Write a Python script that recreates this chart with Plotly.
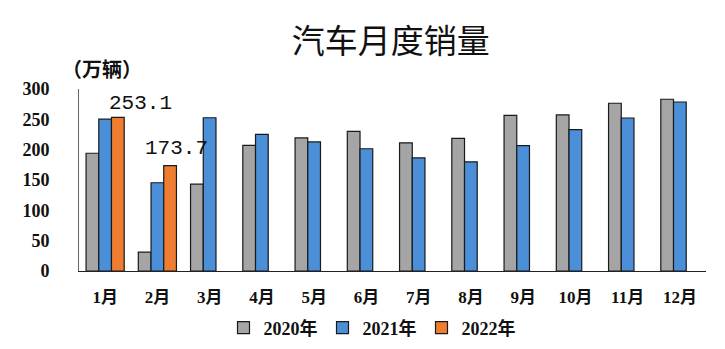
import plotly.graph_objects as go

months = ["1月", "2月", "3月", "4月", "5月", "6月", "7月", "8月", "9月", "10月", "11月", "12月"]
sales_2020 = [194.1, 31.0, 143.1, 207.0, 219.4, 230.0, 211.2, 218.6, 256.5, 257.3, 276.5, 283.1]
sales_2021 = [250.3, 145.5, 252.6, 225.2, 212.8, 201.5, 186.4, 179.9, 206.7, 233.2, 252.2, 278.6]
sales_2022 = [253.1, 173.7, None, None, None, None, None, None, None, None, None, None]
series_names = ["2020年", "2021年", "2022年"]
colors = ["#A5A5A5", "#4A8FD8", "#EE7D31"]

# label offsets (pixels) for the 2022 value labels
label_xshift = [35, 19]
label_yshift = [14, 17]

serif = "Liberation Serif, Times New Roman, Noto Sans CJK SC, serif"
cjk = "Noto Sans CJK SC, sans-serif"

fig = go.Figure()
for name, vals, col in zip(series_names, [sales_2020, sales_2021, sales_2022], colors):
    fig.add_trace(go.Bar(
        x=months, y=vals, name=name,
        marker=dict(color=col, line=dict(color="#1a1a1a", width=1.2)),
    ))

i = 0
for m, v in zip(months, sales_2022):
    if v is not None:
        fig.add_annotation(
            x=m, y=v, text=f"{v:.1f}", showarrow=False,
            xshift=label_xshift[i], yshift=label_yshift[i], yanchor="middle",
            font=dict(family="Liberation Mono, DejaVu Sans Mono, monospace", size=21, color="#111"),
        )
        i += 1

fig.add_annotation(
    xref="paper", yref="paper", x=-0.031, y=1.11, xanchor="left", yanchor="middle",
    text="（万辆）", showarrow=False,
    font=dict(family=cjk, size=20, color="#111", weight="bold"),
)

fig.update_layout(
    width=725, height=349,
    margin=dict(l=79, r=19, t=89, b=78, autoexpand=False),
    paper_bgcolor="white", plot_bgcolor="white",
    title=dict(text="汽车月度销量", x=0.539, xanchor="center", xref="container",
               y=1 - 41 / 349, yanchor="middle", yref="container",
               font=dict(family=cjk, size=33, color="#111")),
    barmode="group", bargap=0.27, bargroupgap=0,
    showlegend=True,
    legend=dict(orientation="h", x=372 / 725, xanchor="center", xref="container",
                y=1 - 328 / 349, yanchor="middle", yref="container",
                font=dict(family=serif, size=18, color="#111", weight="bold"),
                itemwidth=30, traceorder="normal"),
    xaxis=dict(showline=True, linecolor="#222", linewidth=1, ticks="", automargin=False,
               tickfont=dict(family=serif, size=17, color="#111", weight="bold"),
               ticklabelstandoff=11, showgrid=False),
    yaxis=dict(range=[0, 300], dtick=50, showline=True, linecolor="#666", linewidth=1,
               ticks="", showgrid=False, zeroline=False, automargin=False,
               tickfont=dict(family=serif, size=18, color="#111", weight="bold"),
               ticklabelstandoff=25),
)

fig.write_html("out.html")
